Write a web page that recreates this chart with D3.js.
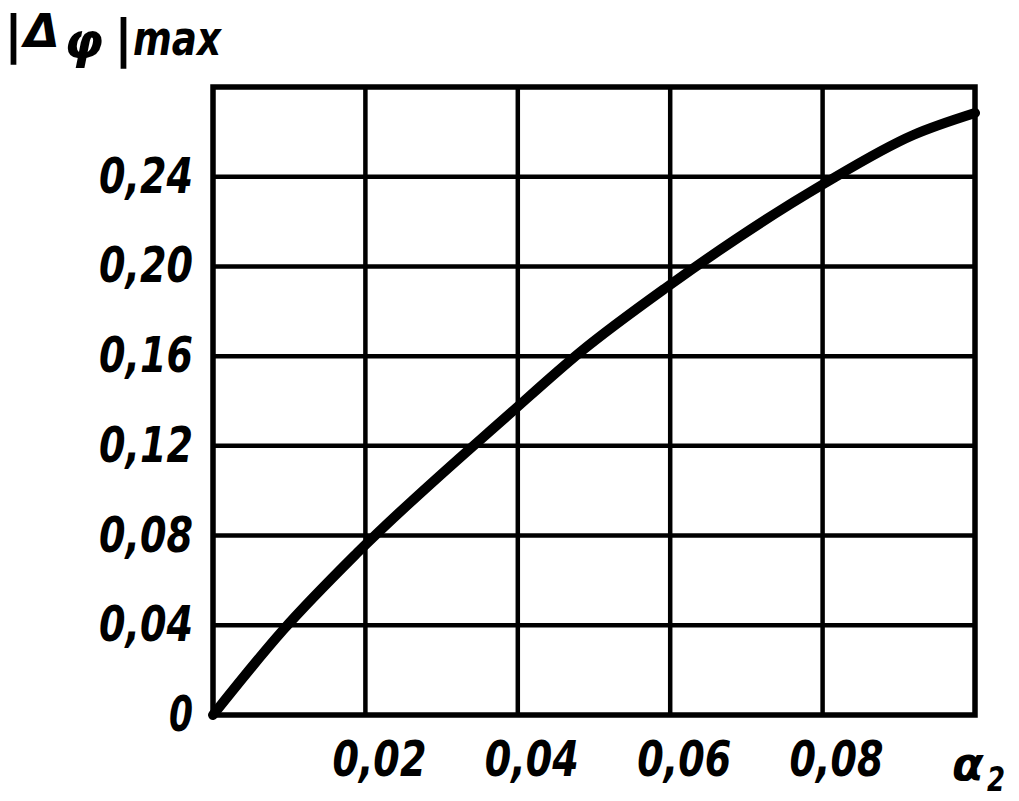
<!DOCTYPE html>
<html>
<head>
<meta charset="utf-8">
<script src="https://cdn.jsdelivr.net/npm/d3@7"></script>
<style>
  html, body { margin: 0; padding: 0; background: #fff; }
  svg { display: block; }
  .lbl { font-family: "DejaVu Sans", "Liberation Sans", sans-serif; font-style: italic; font-weight: bold; fill: #000; }
</style>
</head>
<body>
<svg id="chart" width="1019" height="801"></svg>
<script>
// ---- data ----
const alpha2 = [0, 0.0092, 0.0189, 0.0392, 0.0482, 0.0594, 0.0799, 0.0919, 0.100];
const dphiMax = [0, 0.0379, 0.0722, 0.1351, 0.1618, 0.1904, 0.2363, 0.2586, 0.2684];
const xTicks = [0.02, 0.04, 0.06, 0.08];
const xTickLabels = ["0,02", "0,04", "0,06", "0,08"];
const yTicks = [0, 0.04, 0.08, 0.12, 0.16, 0.20, 0.24];
const yTickLabels = ["0", "0,04", "0,08", "0,12", "0,16", "0,20", "0,24"];
const xDomain = [0, 0.1];
const yDomain = [0, 0.28];

// ---- layout ----
const svg = d3.select("#chart");
const x = d3.scaleLinear().domain(xDomain).range([213, 975]);
const y = d3.scaleLinear().domain(yDomain).range([715, 87]);

// grid
const g = svg.append("g");
g.selectAll("line.v").data(xTicks).enter().append("line")
  .attr("x1", d => x(d)).attr("x2", d => x(d))
  .attr("y1", y(yDomain[0])).attr("y2", y(yDomain[1]))
  .attr("stroke", "#000").attr("stroke-width", 4.5);
g.selectAll("line.h").data(yTicks.filter(d => d > 0)).enter().append("line")
  .attr("x1", x(xDomain[0])).attr("x2", x(xDomain[1]))
  .attr("y1", d => y(d)).attr("y2", d => y(d))
  .attr("stroke", "#000").attr("stroke-width", 4.5);

// frame
g.append("rect")
  .attr("x", x(xDomain[0])).attr("y", y(yDomain[1]))
  .attr("width", x(xDomain[1]) - x(xDomain[0]))
  .attr("height", y(yDomain[0]) - y(yDomain[1]))
  .attr("fill", "none").attr("stroke", "#000").attr("stroke-width", 5.5);

// curve
const pts = alpha2.map((a, i) => [a, dphiMax[i]]);
const line = d3.line().x(d => x(d[0])).y(d => y(d[1])).curve(d3.curveMonotoneX);
svg.append("path").datum(pts).attr("d", line)
  .attr("fill", "none").attr("stroke", "#000").attr("stroke-width", 10)
  .attr("stroke-linecap", "round").attr("stroke-linejoin", "round");

// y tick labels
svg.selectAll("text.yl").data(yTicks).enter().append("text")
  .attr("class", "lbl")
  .attr("x", 193).attr("y", d => y(d) + 16)
  .attr("text-anchor", "end")
  .attr("font-size", 50)
  .attr("textLength", (d, i) => yTickLabels[i].length > 1 ? 94 : 24)
  .attr("lengthAdjust", "spacingAndGlyphs")
  .text((d, i) => yTickLabels[i]);

// x tick labels
svg.selectAll("text.xl").data(xTicks).enter().append("text")
  .attr("class", "lbl")
  .attr("x", d => x(d) + 14).attr("y", 776)
  .attr("text-anchor", "middle")
  .attr("font-size", 50)
  .attr("textLength", 94)
  .attr("lengthAdjust", "spacingAndGlyphs")
  .text((d, i) => xTickLabels[i]);

// y axis title  |Δφ|max
const title = svg.append("g");
title.append("text").attr("class", "lbl").attr("font-weight", "normal").attr("font-size", 52)
  .attr("x", 4).attr("y", 52).text("|");
title.append("text").attr("class", "lbl").attr("font-size", 46)
  .attr("x", 24).attr("y", 47).text("Δ");
title.append("text").attr("class", "lbl").attr("font-size", 50)
  .attr("x", 64).attr("y", 58).text("φ");
title.append("text").attr("class", "lbl").attr("font-weight", "normal").attr("font-size", 52)
  .attr("x", 114).attr("y", 56).text("|");
title.append("text").attr("class", "lbl").attr("font-size", 48)
  .attr("x", 133).attr("y", 55)
  .attr("textLength", 88).attr("lengthAdjust", "spacingAndGlyphs").text("max");

// x axis title  α2
svg.append("text").attr("class", "lbl").attr("font-size", 46)
  .attr("x", 952).attr("y", 780).text("α");
svg.append("text").attr("class", "lbl").attr("font-size", 34)
  .attr("x", 987).attr("y", 791)
  .attr("textLength", 18).attr("lengthAdjust", "spacingAndGlyphs").text("2");
</script>
</body>
</html>
